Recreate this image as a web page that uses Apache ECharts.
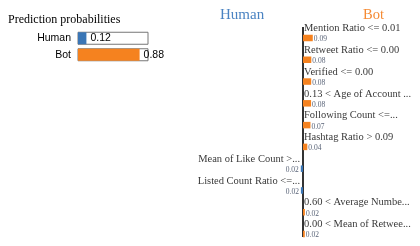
<!DOCTYPE html>
<html><head><meta charset="utf-8">
<script src="https://cdn.jsdelivr.net/npm/echarts@6/dist/echarts.min.js"></script>
<style>html,body{margin:0;padding:0;background:#fff}#c{width:420px;height:246px}</style>
</head><body><div id="c"></div>
<script>
const classes = ['Human', 'Bot'];
const probs = [0.12, 0.88];
const features = [
  'Mention Ratio <= 0.01',
  'Retweet Ratio <= 0.00',
  'Verified <= 0.00',
  '0.13 < Age of Account ...',
  'Following Count <=...',
  'Hashtag Ratio > 0.09',
  'Mean of Like Count >...',
  'Listed Count Ratio <=...',
  '0.60 < Average Numbe...',
  '0.00 < Mean of Retwee...'
];
const weights = [0.093, 0.079, 0.078, 0.077, 0.071, 0.041, -0.021, -0.020, 0.018, 0.017];
const axisSpan = [0, 9.64];

const BLUE = '#3a76b6', ORANGE = '#f5821f';
const SERIF = 'Liberation Serif', SANS = 'Liberation Sans';

const chart = echarts.init(document.getElementById('c'), null, {renderer: 'canvas'});
chart.setOption({
  animation: false,
  title: [
    {text: 'Prediction probabilities', left: 3, top: 9, textStyle: {fontFamily: SERIF, fontSize: 12, fontWeight: 'normal', color: '#000'}},
    {text: 'Human', left: 215, top: 3, textStyle: {fontFamily: SERIF, fontSize: 15, fontWeight: 'normal', color: '#4a83c2'}},
    {text: 'Bot', left: 358, top: 3, textStyle: {fontFamily: SERIF, fontSize: 14.5, fontWeight: 'normal', color: '#f58a33'}}
  ],
  grid: [
    {left: 78, top: 30, width: 70, height: 33},
    {left: 198, top: 27.1, width: 210, height: 217.8}
  ],
  xAxis: [
    {gridIndex: 0, type: 'value', min: 0, max: 1, show: false},
    {gridIndex: 1, type: 'value', min: -1, max: 1, show: false}
  ],
  yAxis: [
    {gridIndex: 0, type: 'category', data: classes, inverse: true,
     axisLine: {show: false}, axisTick: {show: false},
     axisLabel: {margin: 7, fontFamily: SANS, fontSize: 10.5, color: '#000'}},
    {gridIndex: 1, type: 'category', data: features, inverse: true, show: false},
    {gridIndex: 1, type: 'value', min: 0, max: 10, inverse: true, show: false}
  ],
  series: [
    {type: 'bar', xAxisIndex: 0, yAxisIndex: 0, barWidth: 12,
     showBackground: true,
     backgroundStyle: {color: '#fff', borderColor: '#777', borderWidth: 1},
     data: probs.map((p, i) => ({value: p, itemStyle: {color: i === 0 ? BLUE : ORANGE}})),
     label: {show: true, position: 'right', distance: 4, fontFamily: SANS, fontSize: 10.5, color: '#000',
             formatter: p => p.value.toFixed(2)}},
    {type: 'line', xAxisIndex: 1, yAxisIndex: 2, symbol: 'none', silent: true, z: 1,
     lineStyle: {color: '#333', width: 2},
     data: axisSpan.map(v => [0, v])},
    {type: 'bar', xAxisIndex: 1, yAxisIndex: 1, barWidth: 6.5, z: 3,
     data: weights.map(w => ({
       value: w,
       itemStyle: {color: w >= 0 ? ORANGE : BLUE},
       label: {position: w >= 0 ? 'right' : 'left', distance: w >= 0 ? 1 : 2}
     })),
     label: {show: true, offset: [0, 1.5], fontFamily: SERIF, fontSize: 7.5, color: '#5a6478',
             formatter: p => Math.abs(p.value).toFixed(2)}},
    {type: 'scatter', xAxisIndex: 1, yAxisIndex: 1, symbolSize: 0, silent: true,
     data: weights.map((w, i) => ({
       value: [0, i],
       label: {position: w >= 0 ? 'right' : 'left', distance: w >= 0 ? 1 : 3}
     })),
     label: {show: true, offset: [0, -9.5], fontFamily: SERIF, fontSize: 10.5, color: '#000',
             formatter: p => features[p.dataIndex]}}
  ]
});
</script></body></html>
